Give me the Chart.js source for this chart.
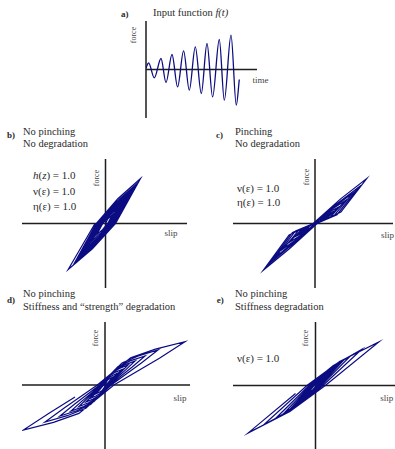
<!DOCTYPE html>
<html>
<head>
<meta charset="utf-8">
<script src="https://cdn.jsdelivr.net/npm/chart.js@4.4.0/dist/chart.umd.min.js"></script>
<style>
html, body { margin:0; padding:0; background:#fff; width:395px; height:449px; overflow:hidden; }
body { position:relative; font-family:"Liberation Serif", "DejaVu Serif", serif; color:#2b2b2b; }
canvas { position:absolute; }
.t { position:absolute; white-space:nowrap; line-height:1; font-size:10.5px; }
.l { transform: translateY(-50%); }
.c { transform: translate(-50%,-50%); }
.lab { font-weight:bold; font-size:9px; }
.eq { font-size:11px; }
.ax { font-size:9px; color:#444; }
.rot { transform: translate(-50%,-50%) rotate(-90deg); font-size:8px; color:#444; }
</style>
</head>
<body>

<div class="t l lab" style="left:121px;top:14px">a)</div>
<div class="t l" style="left:153px;top:13px">Input function <i>f(t)</i></div>
<div class="t rot" style="left:133.5px;top:35px">force</div>
<div class="t c ax" style="left:260.5px;top:80px">time</div>

<div class="t l lab" style="left:7px;top:135px">b)</div>
<div class="t l" style="left:23px;top:131.5px">No pinching</div>
<div class="t l" style="left:23px;top:143.5px">No degradation</div>
<div class="t l eq" style="left:33px;top:175px"><i>h</i>(<i>z</i>) = 1.0</div>
<div class="t l eq" style="left:33px;top:191px">ν(ε) = 1.0</div>
<div class="t l eq" style="left:33px;top:206px">η(ε) = 1.0</div>
<div class="t rot" style="left:96.7px;top:177.5px">force</div>
<div class="t c ax" style="left:171px;top:233px">slip</div>

<div class="t l lab" style="left:216px;top:135px">c)</div>
<div class="t l" style="left:235px;top:131.5px">Pinching</div>
<div class="t l" style="left:235px;top:143.5px">No degradation</div>
<div class="t l eq" style="left:237px;top:187.7px">ν(ε) = 1.0</div>
<div class="t l eq" style="left:237px;top:201.7px">η(ε) = 1.0</div>
<div class="t rot" style="left:307.3px;top:176.5px">force</div>
<div class="t c ax" style="left:387.5px;top:235px">slip</div>

<div class="t l lab" style="left:7px;top:300px">d)</div>
<div class="t l" style="left:23px;top:294px">No pinching</div>
<div class="t l" style="left:23px;top:306.7px">Stiffness and “strength” degradation</div>
<div class="t rot" style="left:96px;top:337.5px">force</div>
<div class="t c ax" style="left:180px;top:398px">slip</div>

<div class="t l lab" style="left:216.7px;top:300px">e)</div>
<div class="t l" style="left:235px;top:294px">No pinching</div>
<div class="t l" style="left:235px;top:306.7px">Stiffness degradation</div>
<div class="t l eq" style="left:237px;top:357.7px">ν(ε) = 1.0</div>
<div class="t rot" style="left:306px;top:338px">force</div>
<div class="t c ax" style="left:386.7px;top:397.7px">slip</div>

<script>
// a) input signal, peaks and troughs
const timeA  = [0, 2.6, 8.3, 15, 20, 26, 31.6, 37.6, 43.3, 49.3, 55.3, 61, 66.6, 73.3, 78.3, 85, 90.3, 93.3];
const forceA = [1.6, 6.6, -8.4, 11, -13, 15, -17.4, 18.6, -20.7, 22.6, -24, 26, -27.4, 30, -30.7, 34.3, -35.7, -10];

// b) no pinching, no degradation
const slipB = [
  0, 2.4, 6.8,
  2.2, -3.0, -8.7,
  -2.8, 4.0, 11.3,
  3.5, -4.7, -13.4,
  -4.0, 5.4, 15.5,
  4.7, -6.3, -17.9,
  -5.2, 6.7, 19.2,
  5.7, -7.5, -21.3,
  -6.2, 8.2, 23.3,
  6.7, -8.6, -24.7,
  -7.2, 9.4, 26.8,
  7.7, -9.9, -28.2,
  -8.3, 10.8, 30.9,
  8.8, -11.1, -31.6,
  -9.3, 12.3, 35,
  10.1, -13.1, -37.3,
  -10.5
];
const forceB = [
  0, 4.8, 8.7,
  0, -6.1, -11.1,
  0, 8.0, 14.5,
  0, -9.5, -17.2,
  0, 10.9, 19.8,
  0, -12.6, -22.9,
  0, 13.5, 24.6,
  0, -15.0, -27.3,
  0, 16.4, 29.8,
  0, -17.4, -31.6,
  0, 18.9, 34.3,
  0, -19.9, -36.1,
  0, 21.7, 39.5,
  0, -22.3, -40.5,
  0, 24.8, 45,
  0, -25.3, -46,
  0
];

// c) pinching, no degradation
const slipC = [
  0, 4.5, 9,
  4.5, 0.4, -5, -10,
  -5, -0.4, 7, 14,
  7, 0.6, -7.5, -15,
  -7.5, -0.6, 9.5, 19,
  9.5, 0.8, -10.5, -21,
  -10.5, -0.8, 12, 24,
  12, 1.0, -13, -26,
  -13, -1.0, 15, 30,
  15, 1.2, -16, -32,
  -16, -1.3, 18.5, 37,
  18.5, 1.5, -19.5, -39,
  -19.5, -1.6, 22, 44,
  22, 1.8, -22.5, -45,
  -22.5, -1.8, 25.9, 51.7,
  25.9, 2.1, -25.9, -51.7,
  -25.9, -12
];
const forceC = [
  0, 3.7, 5.9,
  2.0, 0, -4.2, -6.5,
  -2.2, 0, 5.8, 9.1,
  3.1, 0, -6.3, -9.8,
  -3.3, 0, 7.9, 12.4,
  4.2, 0, -8.8, -13.7,
  -4.6, 0, 10.2, 16.7,
  5.2, 0, -11.1, -19.1,
  -5.4, 0, 12.9, 22.7,
  6.1, 0, -14.0, -25.5,
  -6.4, 0, 16.2, 29.7,
  7.2, 0, -17.3, -33.1,
  -7.4, 0, 19.8, 36.7,
  8.8, 0, -20.8, -39.6,
  -8.9, 0, 24.9, 45,
  11.4, 0, -25.5, -46.8,
  -11.5, -5
];

// d) no pinching, stiffness and strength degradation
const slipD = [
  0, 2.6, 5.0, 8,
  5.4, 0.9, -2.9, -5.7, -9,
  -6.1, -1.2, 3.8, 7.6, 12,
  8.2, 1.4, -4.5, -8.8, -14,
  -9.5, -1.7, 5.4, 10.7, 17,
  11.6, 2.0, -6.1, -12.0, -19,
  -12.9, -2.3, 7.4, 14.5, 23,
  15.6, 2.7, -8.3, -16.4, -26,
  -17.7, -3.1, 9.6, 18.9, 30,
  20.4, 3.5, -10.9, -21.4, -34,
  -23.1, -4.1, 12.8, 25.2, 40,
  27.2, 4.7, -14.4, -28.4, -45,
  -30.6, -5.4, 17.0, 33.4, 53,
  36.0, 6.2, -19.2, -37.8, -60,
  -40.8, -7.7, 25.6, 50.4, 80,
  54.4, 8.9, -26.1, -51.5, -81.7,
  -55.6, -30
];
const forceD = [
  0, 5.0, 6.6, 8,
  5.0, 0, -5.5, -7.3, -8.8,
  -5.5, 0, 7.2, 9.5, 11.5,
  7.1, 0, -8.2, -10.8, -13,
  -8.1, 0, 9.8, 12.9, 15.5,
  9.6, 0, -10.7, -14.1, -17,
  -10.5, 0, 12.6, 16.6, 20,
  12.4, 0, -13.5, -17.8, -21.5,
  -13.3, 0, 15.1, 19.9, 24,
  14.9, 0, -16.4, -21.6, -26,
  -16.1, 0, 18.3, 24.1, 29,
  18.0, 0, -19.5, -25.7, -31,
  -19.2, 0, 22.1, 29.1, 35,
  21.7, 0, -23.3, -30.7, -37,
  -22.9, 0, 27.3, 35.9, 43.3,
  26.8, 0, -28.4, -37.4, -45,
  -27.9, -12
];

// e) no pinching, stiffness degradation
const slipE = [
  0, 2.7, 7,
  1.1, -3.0, -8,
  -1.4, 4.2, 11,
  1.8, -4.9, -13,
  -2.2, 6.1, 16,
  2.6, -6.8, -18,
  -2.9, 8.0, 21,
  3.4, -9.1, -24,
  -3.8, 10.3, 27,
  4.4, -11.8, -31,
  -5.0, 13.3, 35,
  5.6, -15.2, -40,
  -6.5, 17.5, 46,
  7.4, -19.8, -52,
  -8.6, 24.1, 63.3,
  9.8, -25.6, -67.3,
  -20
];
const forceE = [
  0, 3.9, 7,
  0, -4.4, -8,
  0, 5.9, 10.8,
  0, -6.9, -12.6,
  0, 8.4, 15.2,
  0, -9.4, -17,
  0, 10.7, 19.5,
  0, -12.1, -22,
  0, 13.2, 24,
  0, -14.9, -27,
  0, 16.2, 29.5,
  0, -18.2, -33,
  0, 19.8, 36,
  0, -21.7, -39.5,
  0, 24.0, 43.6,
  0, -26.1, -47.4,
  -8
];

const NAVY = '#0c0c82';

// axes crossing at zero, drawn under the curves
const crossAxes = {
  id: 'crossAxes',
  beforeDatasetsDraw(chart) {
    const {ctx, chartArea, scales} = chart;
    const x0 = scales.x.getPixelForValue(0);
    const y0 = scales.y.getPixelForValue(0);
    ctx.save();
    ctx.strokeStyle = '#1e1e1e';
    ctx.lineWidth = 1.5;
    ctx.beginPath();
    ctx.moveTo(chartArea.left, y0);
    ctx.lineTo(chartArea.right, y0);
    ctx.moveTo(x0, chartArea.top);
    ctx.lineTo(x0, chartArea.bottom);
    ctx.stroke();
    ctx.restore();
  }
};

// box = page position of the axis frame
function panel(box, xmin, xmax, ymin, ymax, xs, ys, lineOpts) {
  const m = 4;
  const cv = document.createElement('canvas');
  cv.width = box.r - box.l + 2 * m;
  cv.height = box.b - box.t + 2 * m;
  cv.style.left = (box.l - m) + 'px';
  cv.style.top = (box.t - m) + 'px';
  document.body.appendChild(cv);
  const pts = xs.map((v, i) => ({x: v, y: ys[i]}));
  return new Chart(cv, {
    type: 'scatter',
    data: {
      datasets: [Object.assign({
        data: pts,
        showLine: true,
        borderColor: NAVY,
        borderWidth: 1.2,
        pointRadius: 0,
        tension: 0
      }, lineOpts || {})]
    },
    options: {
      responsive: false,
      animation: false,
      events: [],
      layout: { padding: m },
      plugins: { legend: { display: false }, tooltip: { enabled: false } },
      scales: {
        x: { type: 'linear', display: false, min: xmin, max: xmax },
        y: { type: 'linear', display: false, min: ymin, max: ymax }
      }
    },
    plugins: [crossAxes]
  });
}

panel({l: 146, r: 257, t: 21, b: 118}, 0, 111, -48.5, 48.5, timeA, forceA,
      { cubicInterpolationMode: 'monotone', borderWidth: 1.3 });
panel({l: 22, r: 187, t: 159, b: 288}, -83.5, 81.5, -64.5, 64.5, slipB, forceB);
panel({l: 233, r: 393, t: 159, b: 288}, -82, 78, -64.5, 64.5, slipC, forceC);
panel({l: 22, r: 190, t: 322, b: 449}, -83, 85, -64, 63, slipD, forceD);
panel({l: 233, r: 395, t: 322, b: 449}, -82.5, 79.5, -63.5, 63.5, slipE, forceE);
</script>
</body>
</html>
